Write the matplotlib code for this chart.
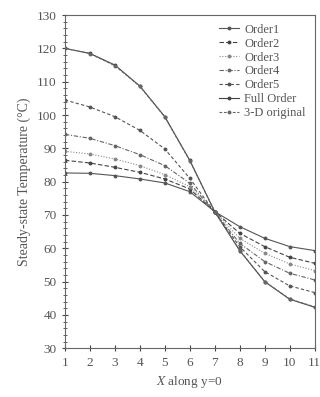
import matplotlib
matplotlib.use("Agg")
from matplotlib import pyplot as plt
from matplotlib.ticker import MultipleLocator

plt.rcParams['font.family'] = ['Liberation Serif', 'DejaVu Serif']
plt.rcParams['mathtext.fontset'] = 'stix'

# node positions along y=0
x = [1, 2, 3, 4, 5, 6, 7, 8, 9, 10, 11]

order1 = [82.6, 82.5, 81.8, 80.8, 79.6, 77.0, 71.0, 66.5, 63.0, 60.5, 59.3]
order2 = [86.4, 85.6, 84.3, 82.8, 80.8, 77.8, 71.0, 64.5, 60.5, 57.3, 55.5]
order3 = [89.1, 88.3, 86.8, 84.8, 82.1, 78.5, 71.0, 63.0, 58.5, 55.3, 53.3]
order4 = [94.2, 93.0, 90.8, 88.1, 84.8, 79.5, 70.8, 61.5, 56.0, 52.5, 50.5]
order5 = [104.5, 102.4, 99.5, 95.4, 89.8, 81.0, 70.8, 60.5, 53.0, 48.7, 46.7]
full_order = [120.0, 118.5, 115.0, 108.7, 99.5, 86.4, 71.0, 59.3, 50.0, 44.7, 42.3]
original_3d = [120.0, 118.4, 114.8, 108.6, 99.4, 86.3, 71.0, 59.4, 50.0, 44.8, 42.4]

labels = ['Order1', 'Order2', 'Order3', 'Order4', 'Order5', 'Full Order', '3-D original']
series = [order1, order2, order3, order4, order5, full_order, original_3d]
styles = ['-', (0, (4, 2)), (0, (1, 1.5)), (0, (4, 1.5, 1, 1.5)), (0, (3, 2)), '-', (0, (2.5, 1.5))]
colors = ['#555555', '#444444', '#888888', '#666666', '#555555', '#444444', '#666666']

fig = plt.figure(figsize=(3.2, 3.97), dpi=100)
ax = fig.add_axes([0.203, 0.123, 0.78, 0.839])

for y, lab, ls, c in zip(series, labels, styles, colors):
    ax.plot(x, y, linestyle=ls, color=c, linewidth=0.8, marker='o', markersize=1.8,
            label=lab)

ax.set_xlim(1, 11)
ax.set_ylim(30, 130)
ax.xaxis.set_major_locator(MultipleLocator(1))
ax.yaxis.set_major_locator(MultipleLocator(10))
ax.yaxis.set_minor_locator(MultipleLocator(2))
ax.tick_params(axis='both', which='major', direction='inout', length=5, width=0.8,
               colors='#444444', labelsize=9.5, labelcolor='#555555')
ax.tick_params(axis='y', which='minor', direction='inout', length=3, width=0.6, colors='#444444')
for s in ax.spines.values():
    s.set_color('#666666')
    s.set_linewidth(0.8)

ax.set_ylabel('Steady-state Temperature (\u00b0C)', fontsize=10, color='#555555', labelpad=4)
ax.set_xlabel(r'$\mathit{X}$ along y=0', fontsize=9.5, color='#555555', labelpad=4)

leg = ax.legend(loc='upper right', frameon=False, fontsize=9, handlelength=1.6,
                handletextpad=0.4, labelspacing=0.15, borderaxespad=0.3)
for t in leg.get_texts():
    t.set_color('#555555')

fig.savefig('out.png', dpi=100)
